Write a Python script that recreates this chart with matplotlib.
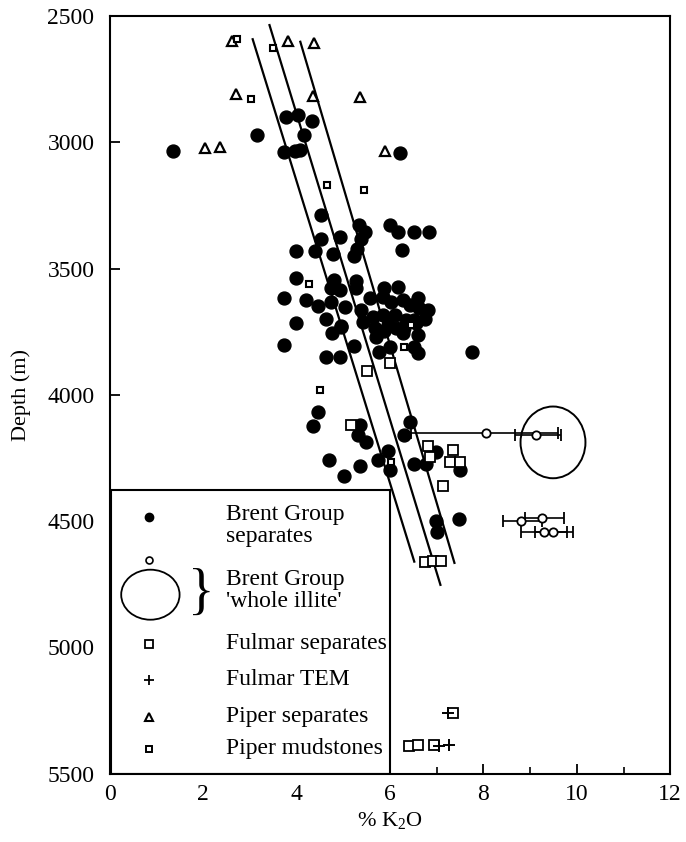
import matplotlib
matplotlib.use("Agg")
import matplotlib.pyplot as plt
from matplotlib.patches import Ellipse, Rectangle

plt.rcParams['font.family'] = ['Liberation Serif', 'DejaVu Serif']
plt.rcParams['mathtext.fontset'] = 'custom'
plt.rcParams['mathtext.rm'] = 'Liberation Serif'

# ---------------- data ----------------
brent_x = [1.36, 3.15, 3.78, 4.04, 4.32, 4.15, 3.72, 3.97, 4.08, 6.21,
           4.53, 5.33, 5.47, 6.00, 6.18, 6.51, 6.83, 4.53, 4.92, 5.37,
           3.99, 4.40, 4.77, 5.29, 5.24, 6.25, 3.99, 4.81, 5.28, 4.74,
           4.92, 5.28, 3.74, 4.20, 4.45, 4.74, 5.04, 5.58, 3.99, 4.62,
           4.96, 4.75, 3.74, 5.22, 6.01, 5.77, 6.52, 6.60, 4.62, 4.92,
           5.88, 6.17, 5.85, 6.03, 6.27, 6.60, 6.42, 6.63, 6.81, 5.38,
           5.63, 5.85, 6.10, 6.35, 6.52, 6.76, 4.95, 5.42, 5.95, 6.13,
           6.31, 6.56, 5.67, 5.88, 6.27, 6.60, 5.70, 7.75,
           4.45, 4.35, 5.35, 5.31, 5.49, 6.42, 6.29, 5.95, 5.74, 5.99,
           6.52, 6.78, 6.99, 7.50, 4.69, 5.01, 5.35, 6.99, 7.00, 7.47]
brent_y = [3034, 2971, 2901, 2893, 2917, 2972, 3040, 3034, 3030, 3041,
           3288, 3327, 3354, 3327, 3354, 3354, 3354, 3384, 3373, 3384,
           3430, 3430, 3443, 3422, 3452, 3426, 3538, 3545, 3551, 3577,
           3584, 3577, 3617, 3624, 3648, 3631, 3654, 3617, 3716, 3700,
           3732, 3756, 3802, 3805, 3809, 3832, 3809, 3835, 3848, 3848,
           3577, 3573, 3611, 3631, 3624, 3617, 3643, 3657, 3663, 3663,
           3690, 3683, 3683, 3703, 3703, 3700, 3729, 3710, 3723, 3736,
           3736, 3716, 3736, 3749, 3756, 3762, 3769, 3830,
           4066, 4125, 4118, 4158, 4188, 4109, 4158, 4224, 4257, 4296,
           4273, 4273, 4228, 4296, 4257, 4320, 4281, 4501, 4541, 4492]

# Brent Group 'whole illite' (open circles with K2O ranges)
whole_x = [8.06, 9.12, 8.80, 9.26, 9.29, 9.50]
whole_y = [4151, 4158, 4501, 4488, 4541, 4541]
whole_lo = [6.46, 8.67, 8.42, 8.90, 8.81, 9.10]
whole_hi = [9.59, 9.67, 9.25, 9.72, 9.80, 9.92]
# large ellipse (whole illite field)
ell_x, ell_y, ell_w, ell_h = 9.49, 4188, 1.39, 284

fulmar_x = [5.51, 6.00, 5.17, 6.81, 6.86, 7.35, 7.29, 7.50, 7.13,
            6.76, 6.92, 7.10, 7.34, 6.40, 6.60, 6.95]
fulmar_y = [3904, 3872, 4118, 4204, 4246, 4220, 4264, 4264, 4360,
            4663, 4657, 4657, 5259, 5391, 5385, 5387]

tem_x = [7.24, 7.05, 7.27]
tem_y = [5259, 5391, 5387]

piper_x = [2.62, 3.81, 4.38, 2.70, 2.03, 2.36, 4.35, 5.35, 5.90]
piper_y = [2598, 2598, 2606, 2809, 3024, 3017, 2817, 2822, 3033]

mud_x = [2.73, 3.50, 3.03, 4.65, 5.45, 4.27, 4.50, 6.30, 6.45, 6.02]
mud_y = [2592, 2628, 2830, 3171, 3189, 3560, 3980, 3809, 3723, 4264]

# trend lines (start and end points)
line_x = [[3.06, 6.52], [3.42, 7.08], [4.08, 7.38]]
line_y = [[2592, 4660], [2536, 4752], [2602, 4665]]

legend_labels = ["Brent Group\nseparates", "Brent Group\n'whole illite'",
                 "Fulmar separates", "Fulmar TEM", "Piper separates",
                 "Piper mudstones"]

# ---------------- figure ----------------
fig = plt.figure(figsize=(6.86, 8.42), dpi=100)
ax = fig.add_axes([0.160, 0.081, 0.817, 0.900])
ax.set_xlim(0, 12)
ax.set_ylim(5500, 2500)

for lx, ly in zip(line_x, line_y):
    ax.plot(lx, ly, color='black', lw=1.6, zorder=2)

ax.plot(brent_x, brent_y, 'o', ms=9.3, color='black', mec='black', zorder=3)
ax.plot(fulmar_x, fulmar_y, 's', ms=7, mfc='white', mec='black', mew=1.3, zorder=4)
ax.plot(tem_x, tem_y, '+', ms=8, color='black', mew=1.4, zorder=5)
ax.plot(piper_x, piper_y, '^', ms=7, mfc='white', mec='black', mew=1.6, zorder=4)
ax.plot(mud_x, mud_y, 's', ms=4, mfc='white', mec='black', mew=1.5, zorder=4)

for x, y, lo, hi in zip(whole_x, whole_y, whole_lo, whole_hi):
    ax.errorbar([x], [y], xerr=[[x - lo], [hi - x]], fmt='o', ms=6,
                mfc='white', mec='black', mew=1.3, ecolor='black',
                elinewidth=1.2, capsize=4, capthick=1.2, color='black', zorder=4)
ax.add_patch(Ellipse((ell_x, ell_y), ell_w, ell_h, fill=False,
                     ec='black', lw=1.4, zorder=4))

# ---------------- legend box ----------------
ax.add_patch(Rectangle((0.03, 4376), 5.97, 1124, fc='white', ec='black',
                       lw=1.5, zorder=6))
mx = 0.85
tx = 2.48
ax.plot([mx], [4485], 'o', ms=6, color='black', zorder=7)
ax.plot([mx], [4653], 'o', ms=5, mfc='white', mec='black', mew=1.2, zorder=7)
ax.add_patch(Ellipse((0.87, 4791), 1.25, 198, fill=False, ec='black',
                     lw=1.3, zorder=7))
ax.plot([mx], [4985], 's', ms=6, mfc='white', mec='black', mew=1.3, zorder=7)
ax.plot([mx], [5127], '+', ms=7, color='black', mew=1.3, zorder=7)
ax.plot([mx], [5274], '^', ms=6, mfc='white', mec='black', mew=1.5, zorder=7)
ax.plot([mx], [5400], 's', ms=4, mfc='white', mec='black', mew=1.4, zorder=7)
ax.text(1.95, 4790, "}", fontsize=40, ha='center', va='center', zorder=7)

leg_y = [4518, 4773, 4985, 5127, 5274, 5400]
for ly, lab in zip(leg_y, legend_labels):
    ax.text(tx, ly, lab, fontsize=17, ha='left', va='center',
            linespacing=1.05, zorder=7)

# ---------------- axes ----------------
ax.set_xticks(range(0, 13, 2))
ax.set_xticks(range(1, 12, 2), minor=True)
ax.set_yticks(range(2500, 5501, 500))
ax.tick_params(axis='both', which='major', direction='in', length=7,
               width=1.3, labelsize=17, top=False, right=False, zorder=8)
ax.tick_params(axis='x', which='minor', direction='in', length=5, width=1.2)
ax.tick_params(axis='x', pad=7)
ax.tick_params(axis='y', pad=11)
for sp in ax.spines.values():
    sp.set_linewidth(1.5)
    sp.set_zorder(9)
ax.set_axisbelow(False)

ax.set_xlabel("% K$_2$O", fontsize=16, labelpad=4)
ax.set_ylabel("Depth (m)", fontsize=16, labelpad=12)

fig.savefig("out.png", dpi=100)
